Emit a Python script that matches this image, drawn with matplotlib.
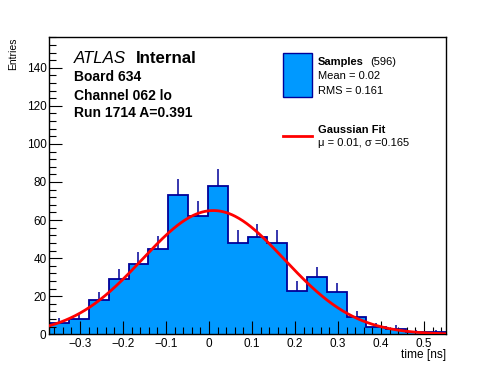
import numpy as np
import matplotlib
matplotlib.use("Agg")
import matplotlib.pyplot as plt
from matplotlib.ticker import MultipleLocator, FuncFormatter
from matplotlib.patches import Rectangle
from matplotlib.lines import Line2D

# ---- data ----
x_min, x_max = -0.3714, 0.5505
counts = [6, 8, 18, 29, 37, 45, 73, 62, 78, 48,
          51, 48, 23, 30, 22, 9, 4, 3, 1, 1]
fit_mu = 0.01
fit_sigma = 0.165
fit_amp = 65.0
n_samples = 596
mean_val = "0.02"
rms_val = "0.161"
y_max = 156

plt.rcParams['font.family'] = ['Liberation Sans', 'DejaVu Sans']

fig = plt.figure(figsize=(4.96, 3.72), dpi=100)
W, H = 496.0, 372.0
L, R, T, B = 49.3, 445.7, 37.3, 334.3
ax = fig.add_axes([L / W, 1 - B / H, (R - L) / W, (B - T) / H])

edges = np.linspace(x_min, x_max, len(counts) + 1)
counts_a = np.array(counts, dtype=float)
centers = 0.5 * (edges[:-1] + edges[1:])

fill_c = '#0099ff'
edge_c = '#000099'
ax.stairs(counts_a, edges, fill=True, facecolor=fill_c, edgecolor='none', zorder=1)
ax.stairs(counts_a, edges, fill=False, color=edge_c, linewidth=1.3, baseline=0, zorder=2)
errs = np.sqrt(counts_a)
ax.vlines(centers, counts_a, counts_a + errs, color=edge_c, linewidth=1.1, zorder=2)

xf = np.linspace(x_min, x_max, 400)
yf = fit_amp * np.exp(-0.5 * ((xf - fit_mu) / fit_sigma) ** 2)
ax.plot(xf, yf, color='#ff0000', linewidth=2.0, zorder=3)

ax.set_xlim(x_min, x_max)
ax.set_ylim(0, y_max)
ax.xaxis.set_major_locator(MultipleLocator(0.1))
ax.xaxis.set_minor_locator(MultipleLocator(0.02))
ax.yaxis.set_major_locator(MultipleLocator(20))
ax.yaxis.set_minor_locator(MultipleLocator(4))
ax.tick_params(which='both', direction='in', top=False, right=False, width=0.8, labelsize=8.5)
ax.tick_params(which='major', length=9.5)
ax.tick_params(which='minor', length=4.8)
ax.tick_params(axis='x', pad=2.5)
ax.tick_params(axis='y', pad=2)
ax.xaxis.set_major_formatter(FuncFormatter(
    lambda v, p: '0' if abs(v) < 1e-9 else ('%.1f' % v).replace('-', '\u2212')))
for s in ax.spines.values():
    s.set_linewidth(1.0)

fig.text(R / W, 1 - 358 / H, 'time [ns]', ha='right', va='baseline', fontsize=8.6)
fig.text(13 / W, 1 - T / H, 'Entries', rotation=90, ha='center', va='top', fontsize=7.5)

# ATLAS labels
fig.text(74 / W, 1 - 63 / H, 'ATLAS', style='italic', fontsize=12.2, va='baseline')
fig.text(135.5 / W, 1 - 63 / H, 'Internal', weight='bold', fontsize=12.2, va='baseline')
fig.text(74.5 / W, 1 - 81 / H, 'Board 634', weight='bold', fontsize=10, va='baseline')
fig.text(74.5 / W, 1 - 100 / H, 'Channel 062 lo', weight='bold', fontsize=10, va='baseline')
fig.text(74.5 / W, 1 - 117 / H, 'Run 1714 A=0.391', weight='bold', fontsize=10, va='baseline')

# legend
fig.patches.append(Rectangle((283.3 / W, 1 - 96.7 / H), 28.4 / W, 43.4 / H,
                             transform=fig.transFigure, facecolor=fill_c,
                             edgecolor=edge_c, linewidth=1.0))
fig.lines.append(Line2D([283.3 / W, 311.7 / W], [1 - 136 / H, 1 - 136 / H],
                        transform=fig.transFigure, color='#ff0000', linewidth=2.0))
lx = 317.7 / W
fig.text(lx, 1 - 65 / H, 'Samples', weight='bold', fontsize=8, va='baseline')
fig.text(370 / W, 1 - 65 / H, '(%d)' % n_samples, fontsize=8, va='baseline')
fig.text(lx, 1 - 79.3 / H, 'Mean = ' + mean_val, fontsize=8, va='baseline')
fig.text(lx, 1 - 94 / H, 'RMS = ' + rms_val, fontsize=8, va='baseline')
fig.text(lx, 1 - 132.7 / H, 'Gaussian Fit', weight='bold', fontsize=8, va='baseline')
fig.text(lx, 1 - 146 / H, '\u03bc = %.2f, \u03c3 =%.3f' % (fit_mu, fit_sigma), fontsize=8, va='baseline')

fig.savefig('out.png', dpi=100)
